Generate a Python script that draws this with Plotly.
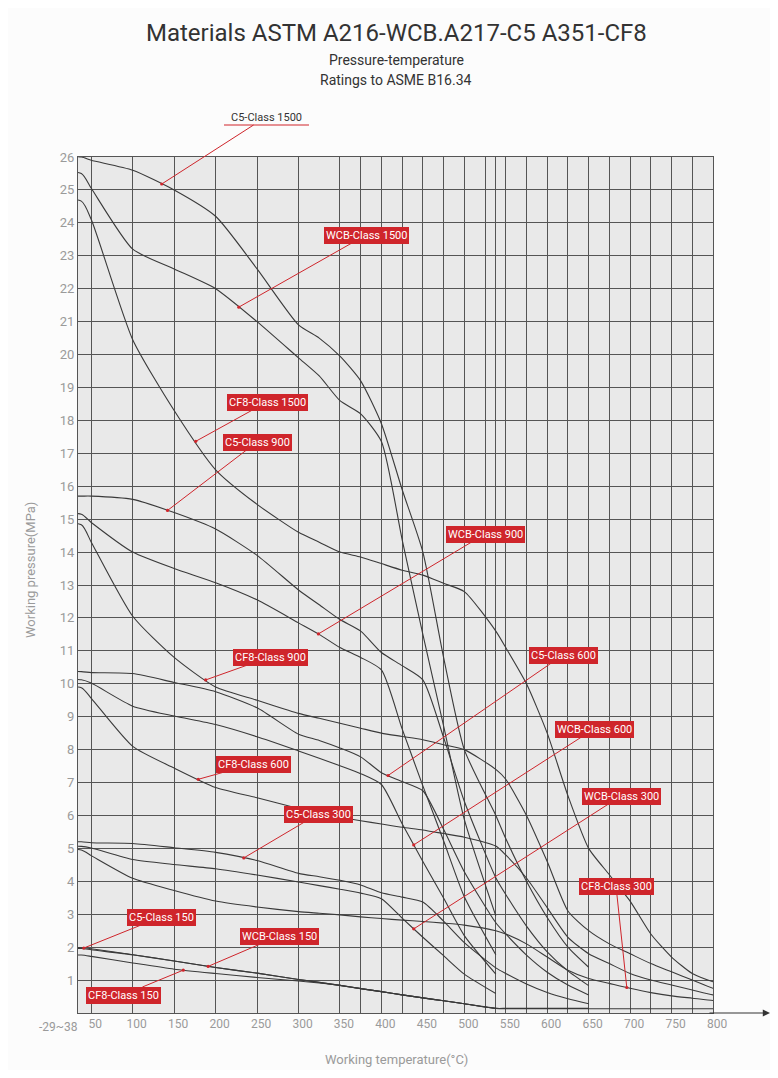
import numpy as np
import plotly.graph_objects as go

# ---------------- data (temperature in °C, pressure in MPa) ----------------
T_WCB = [-29, 38, 50, 100, 150, 200, 250, 300, 325, 350, 375, 400, 425, 450, 475, 500, 538]
T_C5 = [-29, 38, 50, 100, 150, 200, 250, 300, 325, 350, 375, 400, 425, 450, 475, 500, 538,
        550, 575, 600, 625, 650]
T_CF8 = [-29, 38, 50, 100, 150, 200, 250, 300, 325, 350, 375, 400, 425, 450, 475, 500, 538,
         550, 575, 600, 625, 650, 675, 700, 725, 750, 775, 800, 816]

WCB_150 = [1.96, 1.96, 1.92, 1.77, 1.58, 1.38, 1.21, 1.02, 0.93, 0.84, 0.74, 0.65, 0.55, 0.46, 0.37, 0.28, 0.14]
WCB_300 = [5.06, 5.06, 5.01, 4.66, 4.51, 4.38, 4.19, 3.98, 3.87, 3.76, 3.64, 3.47, 2.88, 2.30, 1.74, 1.18, 0.59]
WCB_600 = [10.12, 10.12, 10.02, 9.32, 9.02, 8.76, 8.39, 7.96, 7.74, 7.51, 7.27, 6.94, 5.75, 4.60, 3.49, 2.35, 1.18]
WCB_900 = [15.15, 15.15, 14.9, 14.0, 13.5, 13.07, 12.55, 11.85, 11.5, 11.1, 10.8, 10.42, 8.63, 6.90, 5.23, 3.53, 1.77]
WCB_1500 = [25.5, 25.5, 25.05, 23.2, 22.6, 22.0, 21.0, 19.9, 19.35, 18.6, 18.2, 17.36, 14.38, 11.5, 8.72, 5.88, 2.95]

C5_150 = [1.98, 1.98, 1.95, 1.77, 1.58, 1.38, 1.21, 1.02, 0.93, 0.84, 0.74, 0.65, 0.55, 0.46, 0.37, 0.28, 0.14,
          0.14, 0.14, 0.14, 0.14, 0.14]
C5_300 = [5.2, 5.2, 5.17, 5.15, 5.02, 4.88, 4.63, 4.24, 4.14, 4.03, 3.89, 3.65, 3.52, 3.37, 2.79, 2.14, 1.37,
          1.2, 0.88, 0.62, 0.43, 0.28]
C5_600 = [10.37, 10.37, 10.34, 10.31, 10.04, 9.76, 9.27, 8.47, 8.28, 8.05, 7.78, 7.3, 7.03, 6.75, 5.58, 4.29, 2.74,
          2.4, 1.76, 1.24, 0.85, 0.55]
C5_900 = [15.7, 15.7, 15.7, 15.6, 15.2, 14.7, 13.9, 12.85, 12.4, 11.95, 11.6, 10.95, 10.55, 10.12, 8.37, 6.43, 4.11,
          3.6, 2.64, 1.86, 1.28, 0.83]
C5_1500 = [26.0, 26.0, 25.9, 25.6, 25.0, 24.2, 22.6, 20.9, 20.5, 19.95, 19.2, 17.9, 15.9, 14.0, 10.8, 8.0, 6.0,
           5.3, 4.0, 2.9, 2.0, 1.39]

CF8_150 = [1.76, 1.76, 1.72, 1.52, 1.33, 1.2, 1.08, 0.97, 0.91, 0.84, 0.74, 0.65, 0.55, 0.46, 0.37, 0.28, 0.14,
           0.13, 0.13, 0.13, 0.13, 0.13, 0.13, 0.13, 0.13, 0.13, 0.13, 0.13, 0.13]
CF8_300 = [4.95, 4.95, 4.78, 4.09, 3.72, 3.4, 3.22, 3.08, 3.03, 2.98, 2.92, 2.87, 2.82, 2.78, 2.73, 2.67, 2.5,
           2.4, 2.1, 1.7, 1.3, 1.05, 0.9, 0.75, 0.62, 0.52, 0.45, 0.38, 0.35]
CF8_600 = [9.88, 9.88, 9.56, 8.1, 7.44, 6.85, 6.54, 6.21, 6.06, 5.95, 5.84, 5.74, 5.64, 5.56, 5.45, 5.34, 5.07,
           4.8, 4.1, 3.2, 2.3, 1.8, 1.5, 1.2, 1.0, 0.85, 0.7, 0.55, 0.5]
CF8_900 = [14.83, 14.83, 14.3, 12.05, 10.8, 9.9, 9.5, 9.1, 8.95, 8.8, 8.65, 8.5, 8.4, 8.3, 8.15, 8.0, 7.4,
           7.1, 6.0, 4.6, 3.1, 2.5, 2.1, 1.8, 1.5, 1.25, 1.0, 0.75, 0.65]
CF8_1500 = [24.66, 24.66, 24.1, 20.45, 18.3, 16.5, 15.45, 14.6, 14.3, 14.0, 13.85, 13.65, 13.45, 13.3, 13.05, 12.8, 11.6,
            11.1, 10.0, 8.5, 6.6, 5.0, 4.2, 3.4, 2.4, 1.7, 1.2, 0.95, 0.85]

SERIES = [
    ("WCB-Class 150", T_WCB, WCB_150), ("WCB-Class 300", T_WCB, WCB_300),
    ("WCB-Class 600", T_WCB, WCB_600), ("WCB-Class 900", T_WCB, WCB_900),
    ("WCB-Class 1500", T_WCB, WCB_1500),
    ("C5-Class 150", T_C5, C5_150), ("C5-Class 300", T_C5, C5_300),
    ("C5-Class 600", T_C5, C5_600), ("C5-Class 900", T_C5, C5_900),
    ("C5-Class 1500", T_C5, C5_1500),
    ("CF8-Class 150", T_CF8, CF8_150), ("CF8-Class 300", T_CF8, CF8_300),
    ("CF8-Class 600", T_CF8, CF8_600), ("CF8-Class 900", T_CF8, CF8_900),
    ("CF8-Class 1500", T_CF8, CF8_1500),
]

# grid / tick positions on the temperature axis
X_GRID = [50, 100, 150, 200, 250, 300, 350, 375, 400, 425, 450, 475, 500, 525, 538, 550,
          575, 600, 625, 650, 675, 700, 725, 750, 775, 800]
X_LABELS = ["50", "100", "150", "200", "250", "300", "350", "", "400", "", "450", "", "500", "", "", "550",
            "", "600", "", "650", "", "700", "", "750", "", "800"]
Y_TICKS = list(range(1, 27))

# label: (name, temperature of pointer on curve, box centre px (x, y))
LABELS = [
    ("C5-Class 1500", 135, (266, 117)),
    ("WCB-Class 1500", 228, (366, 235)),
    ("CF8-Class 1500", 176, (267, 402)),
    ("C5-Class 900", 142, (257, 442)),
    ("WCB-Class 900", 324, (485, 534)),
    ("CF8-Class 900", 188, (270, 657)),
    ("C5-Class 600", 408, (563, 655)),
    ("WCB-Class 600", 439, (594, 729)),
    ("CF8-Class 600", 179, (253, 764)),
    ("C5-Class 300", 234, (318, 814)),
    ("WCB-Class 300", 439, (621, 796)),
    ("CF8-Class 300", 696, (616, 886)),
    ("C5-Class 150", 41, (161, 917)),
    ("WCB-Class 150", 191, (279, 936)),
    ("CF8-Class 150", 161, (123, 995)),
]

# ---------------- figure geometry (screen pixels; page has an 8 px body margin) ----------------
PAGE_OFF = 8
W, H = 770, 1062
L, R, TOP, BOT = 78, 713, 157, 1013
X0, X1 = 34, 800
Y0, Y1 = 0, 26


def px2paper(px, py):
    return (px - L) / (R - L), (BOT - py) / (BOT - TOP)


def px2data(px, py):
    return X0 + (px - L) * (X1 - X0) / (R - L), Y0 + (BOT - py) * (Y1 - Y0) / (BOT - TOP)


RED = "#cf252b"
GRID = "#555555"

fig = go.Figure()
for name, T, vals in SERIES:
    fig.add_trace(go.Scatter(x=T, y=vals, mode="lines", name=name,
                             line=dict(color="#3a3a3a", width=1.1, shape="spline", smoothing=0.6),
                             showlegend=False, hoverinfo="skip"))

annotations = []
lookup = {n: (t, v) for n, t, v in SERIES}
for name, tp, (bx, by) in LABELS:
    T, vals = lookup[name]
    yp = float(np.interp(tp, T, vals))
    axd, ayd = px2data(bx, by)
    if name == "C5-Class 1500":
        annotations.append(dict(x=tp, y=yp, xref="x", yref="y", axref="x", ayref="y",
                                ax=axd, ay=ayd, text=name, showarrow=True,
                                font=dict(size=11, color="#333333", family="Roboto"),
                                arrowcolor=RED, arrowwidth=1, arrowhead=6, arrowsize=0.8,
                                bgcolor="rgba(0,0,0,0)", borderpad=1, standoff=0))
    else:
        annotations.append(dict(x=tp, y=yp, xref="x", yref="y", axref="x", ayref="y",
                                ax=axd, ay=ayd, text=name, showarrow=True,
                                font=dict(size=11, color="white", family="Roboto"),
                                bgcolor=RED, bordercolor=RED, borderwidth=1, borderpad=1,
                                arrowcolor=RED, arrowwidth=1, arrowhead=6, arrowsize=0.8,
                                standoff=0))

# titles
for txt, py, size in [("Materials ASTM A216-WCB.A217-C5 A351-CF8", 33, 24),
                      ("Pressure-temperature", 60, 14),
                      ("Ratings to ASME B16.34", 80, 14)]:
    xp, yp = px2paper(396, py)
    annotations.append(dict(x=xp, y=yp, xref="paper", yref="paper", text=txt, showarrow=False,
                            font=dict(size=size, color="#333333", family="Roboto"),
                            xanchor="center", yanchor="middle"))

# axis titles
xp, yp = px2paper(30, 570)
annotations.append(dict(x=xp, y=yp, xref="paper", yref="paper", text="Working pressure(MPa)",
                        showarrow=False, textangle=-90, font=dict(size=13, color="#9a9a9a", family="Roboto"),
                        xanchor="center", yanchor="middle"))
xp, yp = px2paper(396, 1059)
annotations.append(dict(x=xp, y=yp, xref="paper", yref="paper", text="Working temperature(°C)",
                        showarrow=False, font=dict(size=13, color="#9a9a9a", family="Roboto"),
                        xanchor="center", yanchor="middle"))
# first x label
xp, yp = px2paper(80, 1027)
annotations.append(dict(x=xp, y=yp, xref="paper", yref="paper", text="-29~38",
                        showarrow=False, font=dict(size=12, color="#9a9a9a", family="Roboto"),
                        xanchor="right", yanchor="middle"))
# axis arrow
xp, yp = px2paper(770, BOT)
annotations.append(dict(x=xp, y=yp, xref="paper", yref="paper", text="", showarrow=True,
                        ax=-62, ay=0, arrowhead=2, arrowsize=1.2, arrowwidth=1.2, arrowcolor="#333333"))

shapes = []
# red underline of the un-boxed label
ux0, uy = px2paper(224, 125)
ux1, _ = px2paper(309, 125)
shapes.append(dict(type="line", xref="paper", yref="paper", x0=ux0, x1=ux1, y0=uy, y1=uy,
                   line=dict(color=RED, width=1.2)))

fig.update_layout(
    width=W, height=H,
    margin=dict(l=L - PAGE_OFF, r=PAGE_OFF + W - R, t=TOP - PAGE_OFF, b=PAGE_OFF + H - BOT),
    paper_bgcolor="#fcfcfc", plot_bgcolor="#e9e9e9",
    font=dict(family="Roboto", color="#333333"),
    annotations=annotations, shapes=shapes,
)
fig.update_xaxes(range=[X0, X1], tickvals=X_GRID, ticktext=X_LABELS, showgrid=True,
                 gridcolor=GRID, gridwidth=1, showline=True, linecolor=GRID, linewidth=1,
                 mirror=True, zeroline=False, ticks="",
                 tickfont=dict(size=12, color="#9a9a9a"), ticklabelshift=4)
fig.update_yaxes(range=[Y0, Y1], tickvals=Y_TICKS, showgrid=True, gridcolor=GRID, gridwidth=1,
                 showline=True, linecolor=GRID, linewidth=1, mirror=True, zeroline=False,
                 ticks="", tickfont=dict(size=13, color="#9a9a9a"))

fig.write_html("out.html")
